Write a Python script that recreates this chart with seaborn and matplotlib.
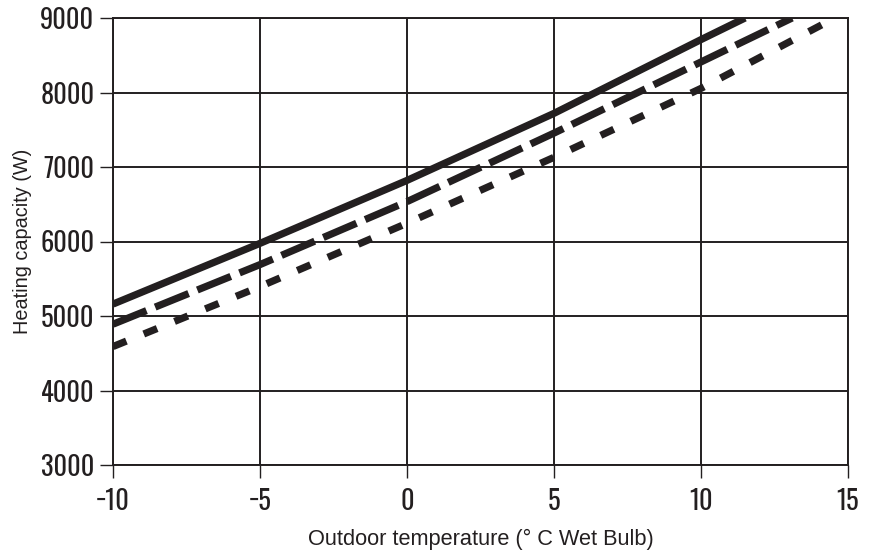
import matplotlib
matplotlib.use("Agg")
import matplotlib.pyplot as plt
import seaborn as sns
import pandas as pd

# values
solid_x = [-10, -5, 0, 5, 10, 11.5]
solid_y = [5160, 5975, 6820, 7720, 8710, 9000]
dashed_x = [-10, -5, 0, 5, 10, 13.1]
dashed_y = [4890, 5690, 6535, 7455, 8410, 9000]
dotted_x = [-10, -5, 0, 5, 10, 14.5]
dotted_y = [4590, 5395, 6245, 7130, 8055, 8990]

x_ticks = [-10, -5, 0, 5, 10, 15]
x_labels = ["\u221210", "\u22125", "0", "5", "10", "15"]
y_ticks = [3000, 4000, 5000, 6000, 7000, 8000, 9000]

frames = []
for name, xs, ys in [("solid", solid_x, solid_y), ("dashed", dashed_x, dashed_y), ("dotted", dotted_x, dotted_y)]:
    frames.append(pd.DataFrame({"temp": xs, "cap": ys, "curve": name}))
df = pd.concat(frames, ignore_index=True)

sns.set_style("white")
ink = "#231f20"
plt.rcParams["font.family"] = ["Liberation Sans", "DejaVu Sans"]

fig = plt.figure(figsize=(8.74, 5.57), dpi=100)
ax = fig.add_axes([113 / 874, 1 - 465 / 557, 735 / 874, 447 / 557])

sns.lineplot(data=df, x="temp", y="cap", hue="curve", style="curve",
             palette={"solid": ink, "dashed": ink, "dotted": ink},
             dashes={"solid": "", "dashed": (5.0, 1.3), "dotted": (2.0, 2.6)},
             linewidth=5.2, legend=False, ax=ax, sort=False, estimator=None)
for l in ax.lines:
    l.set_dash_capstyle("butt")
    l.set_solid_capstyle("butt")

ax.set_xlim(-10, 15)
ax.set_ylim(3000, 9000)
ax.set_xticks(x_ticks)
ax.set_yticks(y_ticks)
ax.set_xticklabels(x_labels)
ax.grid(True, color=ink, linewidth=1.4)
ax.set_axisbelow(True)
for s in ax.spines.values():
    s.set_visible(True)
    s.set_color(ink)
    s.set_linewidth(1.4)

tick_font = ["Oswald", "Antonio", "DejaVu Sans"]
ax.tick_params(axis="both", direction="out", length=9.5, width=1.0, color=ink,
               labelcolor=ink, labelsize=19, top=False, right=False, left=True, bottom=True)
ax.tick_params(axis="y", pad=4)
ax.tick_params(axis="x", pad=7)
for lab in ax.get_xticklabels() + ax.get_yticklabels():
    lab.set_family(tick_font)

ax.set_xlabel("Outdoor temperature (\u00b0 C Wet Bulb)", fontsize=15.7, color=ink, labelpad=10)
ax.set_ylabel("Heating capacity (W)", fontsize=14.3, color=ink, labelpad=6)

fig.savefig("out.png", dpi=100)
